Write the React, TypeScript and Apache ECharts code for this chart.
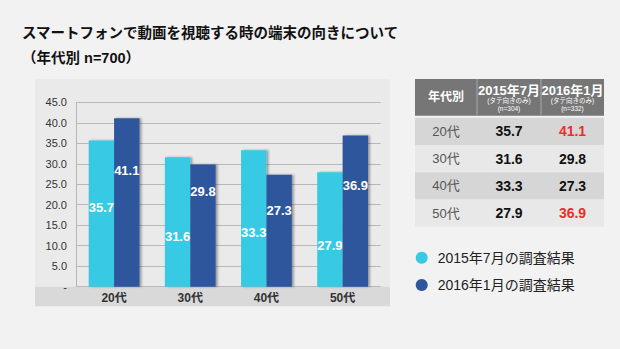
import React, { useEffect, useRef } from "react";
import * as echarts from "echarts";

const categories = ["20代", "30代", "40代", "50代"];
const values2015 = [35.7, 31.6, 33.3, 27.9];
const values2016 = [41.1, 29.8, 27.3, 36.9];
const seriesNames = ["2015年7月の調査結果", "2016年1月の調査結果"];
const tableHeads = ["年代別", "2015年7月", "2016年1月"];
const tableSub = "(タテ向きのみ)";
const tableN = ["(n=304)", "(n=332)"];
const titleText = "スマートフォンで動画を視聴する時の端末の向きについて\n（年代別 n=700）";

// label vertical placement inside each bar (style only)
const labelPos2015 = ["46%", "61%", "60%", "64%"];
const labelPos2016 = ["31%", "22%", "32%", "33%"];

const FONT = "'Liberation Sans', 'Noto Sans CJK JP', sans-serif";
const CYAN = "#38c9e4";
const NAVY = "#2e569c";

export default function App() {
  const ref = useRef<HTMLDivElement>(null);
  useEffect(() => {
    if (!ref.current) return;
    const chart = echarts.init(ref.current, undefined, { renderer: "svg" });

    const colX = [415, 477, 541, 604];
    const headTop = 79;
    const headH = 36.7;
    const rowTop = 117.7;
    const rowH = 27.25;
    const table: any[] = [];
    table.push({
      type: "rect",
      shape: { x: colX[0], y: headTop, width: colX[3] - colX[0], height: headH },
      style: { fill: "#767676" },
    });
    table.push({
      type: "line",
      shape: { x1: colX[1], y1: headTop, x2: colX[1], y2: headTop + headH },
      style: { stroke: "#a8a8a8", lineWidth: 1 },
    });
    table.push({
      type: "line",
      shape: { x1: colX[2], y1: headTop, x2: colX[2], y2: headTop + headH },
      style: { stroke: "#a8a8a8", lineWidth: 1 },
    });
    table.push({
      type: "text",
      x: (colX[0] + colX[1]) / 2,
      y: headTop + headH / 2,
      style: { text: tableHeads[0], fill: "#fff", font: `bold 12px ${FONT}`, align: "center", verticalAlign: "middle" },
    });
    [1, 2].forEach((c) => {
      const cx = (colX[c] + colX[c + 1]) / 2;
      table.push({
        type: "text", x: cx, y: 90,
        style: { text: tableHeads[c], fill: "#fff", font: `bold 13px ${FONT}`, align: "center", verticalAlign: "middle" },
      });
      table.push({
        type: "text", x: cx, y: 100.5,
        style: { text: tableSub, fill: "#fff", font: `6.5px ${FONT}`, align: "center", verticalAlign: "middle" },
      });
      table.push({
        type: "text", x: cx, y: 108.5,
        style: { text: tableN[c - 1], fill: "#fff", font: `6.5px ${FONT}`, align: "center", verticalAlign: "middle" },
      });
    });
    categories.forEach((cat, i) => {
      const y = rowTop + i * rowH;
      table.push({
        type: "rect",
        shape: { x: colX[0], y, width: colX[3] - colX[0], height: rowH },
        style: { fill: i % 2 === 0 ? "#d6d6d6" : "#e8e8e8" },
      });
      table.push({
        type: "text", x: (colX[0] + colX[1]) / 2, y: y + rowH / 2,
        style: { text: cat, fill: "#555", font: `13px ${FONT}`, align: "center", verticalAlign: "middle" },
      });
      table.push({
        type: "text", x: (colX[1] + colX[2]) / 2, y: y + rowH / 2,
        style: { text: values2015[i].toFixed(1), fill: "#111", font: `bold 14px ${FONT}`, align: "center", verticalAlign: "middle" },
      });
      table.push({
        type: "text", x: (colX[2] + colX[3]) / 2, y: y + rowH / 2,
        style: {
          text: values2016[i].toFixed(1),
          fill: values2016[i] > values2015[i] ? "#e8302a" : "#111",
          font: `bold 14px ${FONT}`, align: "center", verticalAlign: "middle",
        },
      });
    });

    const mkData = (vals: number[], pos: string[]) =>
      vals.map((v, i) => ({ value: v, label: { position: ["50%", pos[i]] } }));

    const barCommon = {
      type: "bar",
      barWidth: 25.4,
      barGap: "0%",
      itemStyle: { shadowColor: "rgba(0,0,0,0.35)", shadowOffsetX: 2, shadowOffsetY: 0, shadowBlur: 2 },
      label: {
        show: true,
        color: "#fff",
        fontFamily: FONT,
        fontSize: 13,
        fontWeight: "bold",
        align: "center",
        verticalAlign: "middle",
        formatter: (p: any) => Number(p.value).toFixed(1),
      },
    };

    chart.setOption({
      animation: false,
      backgroundColor: "#f2f2f2",
      title: {
        text: titleText,
        left: 22,
        top: 20.5,
        padding: 0,
        textStyle: { fontFamily: FONT, fontSize: 14.5, fontWeight: "bold", color: "#111", lineHeight: 25 },
      },
      legend: {
        orient: "vertical",
        left: 415.7,
        top: 249.7,
        icon: "circle",
        itemWidth: 12,
        itemHeight: 12,
        itemGap: 11.3,
        padding: 0,
        data: seriesNames,
        textStyle: { fontFamily: FONT, fontSize: 14, color: "#222", lineHeight: 16, padding: [0, 0, 0, 5] },
      },
      grid: { left: 76, right: 239.3, top: 102.3, bottom: 62.3, containLabel: false },
      xAxis: {
        type: "category",
        data: categories,
        axisLine: { show: false },
        axisTick: { show: false },
        axisLabel: { color: "#333", fontFamily: FONT, fontSize: 12, fontWeight: "bold", margin: 5 },
      },
      yAxis: {
        type: "value",
        min: 0,
        max: 45,
        interval: 5,
        axisLine: { show: true, lineStyle: { color: "#b5b5b5" } },
        axisTick: { show: false },
        splitLine: { lineStyle: { color: "#b8b8b8", width: 1 } },
        axisLabel: {
          color: "#333",
          fontFamily: FONT,
          fontSize: 11,
          margin: 9,
          formatter: (v: number) => (v === 0 ? "-" : v.toFixed(1)),
        },
      },
      graphic: [
        {
          type: "rect", z: -10,
          shape: { x: 35, y: 79.3, width: 355, height: 227 },
          style: { fill: "#eaeaea" },
        },
        {
          type: "rect", z: -9,
          shape: { x: 35, y: 286.7, width: 355, height: 19.5, r: [0, 2, 0, 0] },
          style: { fill: "#d9d9d9" },
        },
        ...table,
      ],
      series: [
        { ...barCommon, name: seriesNames[0], color: CYAN, data: mkData(values2015, labelPos2015) },
        { ...barCommon, name: seriesNames[1], color: NAVY, data: mkData(values2016, labelPos2016) },
      ],
    });
    return () => chart.dispose();
  }, []);
  return (
    <div
      ref={ref}
      style={{ position: "fixed", left: 0, top: 0, width: 620, height: 349 }}
    />
  );
}
